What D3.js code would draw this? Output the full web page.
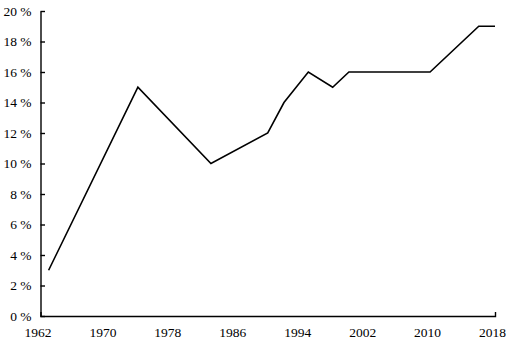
<!DOCTYPE html>
<html>
<head>
<meta charset="utf-8">
<script src="https://cdn.jsdelivr.net/npm/d3@7"></script>
<style>
  body { margin: 0; background: #fff; }
  svg { display: block; }
  .axis text { font-family: "Liberation Serif", "Times New Roman", serif; font-size: 13.5px; fill: #000; }
  .axis path, .axis line { stroke: #000; stroke-width: 1.4; }
</style>
</head>
<body>
<div id="chart"></div>
<script>
// years and values (share in %)
var years = [1963, 1974, 1983, 1990, 1992, 1995, 1998, 2000, 2010, 2016, 2018];
var values = [3, 15, 10, 12, 14, 16, 15, 16, 16, 19, 19];
var xTicks = [1962, 1970, 1978, 1986, 1994, 2002, 2010, 2018];
var yTicks = [0, 2, 4, 6, 8, 10, 12, 14, 16, 18, 20];

var width = 507, height = 342;
var margin = { top: 11, right: 12, bottom: 26, left: 40.5 };

var svg = d3.select("#chart").append("svg")
    .attr("width", width)
    .attr("height", height);

var x = d3.scaleLinear()
    .domain([1962, 2018])
    .range([margin.left, width - margin.right]);

var y = d3.scaleLinear()
    .domain([0, 20])
    .range([height - margin.bottom, margin.top]);

var data = years.map(function (d, i) { return { x: d, y: values[i] }; });

var line = d3.line()
    .x(function (d) { return x(d.x); })
    .y(function (d) { return y(d.y); });

svg.append("path")
    .datum(data)
    .attr("fill", "none")
    .attr("stroke", "#000")
    .attr("stroke-width", 1.6)
    .attr("stroke-linejoin", "miter")
    .attr("d", line);

var xAxis = d3.axisBottom(x)
    .tickValues(xTicks)
    .tickFormat(d3.format("d"))
    .tickSizeInner(0)
    .tickSizeOuter(-4)
    .tickPadding(11);

var yAxis = d3.axisLeft(y)
    .tickValues(yTicks)
    .tickFormat(function (d) { return d + " %"; })
    .tickSizeInner(-4.5)
    .tickSizeOuter(0)
    .tickPadding(9);

svg.append("g")
    .attr("class", "axis xaxis")
    .attr("transform", "translate(0," + (height - margin.bottom) + ")")
    .call(xAxis)
    .selectAll("text")
    .attr("dx", -3);

svg.append("g")
    .attr("class", "axis yaxis")
    .attr("transform", "translate(" + margin.left + ",0)")
    .call(yAxis);
</script>
</body>
</html>
